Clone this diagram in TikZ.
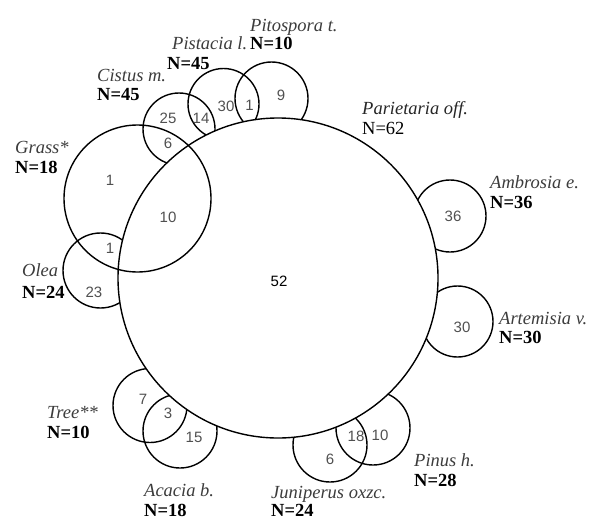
\documentclass[tikz,border=0pt]{standalone}
\usepackage{fontspec}
\setmainfont{Liberation Serif}
\setsansfont{Liberation Sans}
\definecolor{labgray}{HTML}{3C3C3C}
\definecolor{numgray}{HTML}{505050}
\begin{document}
\begin{tikzpicture}[x=1pt,y=-1pt,
  taxon/.style={circle,draw=black,line width=1.4pt,inner sep=0pt,minimum size=#1},
  mainc/.style={circle,draw=black,fill=white,line width=1.4pt,inner sep=0pt,minimum size=#1},
  sp/.style={anchor=base west,inner sep=0pt,text=labgray,font=\fontsize{18.5}{20}\selectfont\itshape},
  cnt/.style={anchor=base west,inner sep=0pt,text=black,font=\fontsize{18.5}{20}\selectfont\bfseries},
  cntr/.style={anchor=base west,inner sep=0pt,text=black,font=\fontsize{18.5}{20}\selectfont},
  num/.style={inner sep=0pt,text=numgray,font=\fontsize{15}{16}\selectfont\sffamily},
]
\useasboundingbox (0,0) rectangle (593,527);

% satellite taxa around the main circle
\node[taxon=73pt] (pito) at (271.5,98.5) {};
\node[taxon=71pt] (pist) at (223.5,104) {};
\node[taxon=72pt] (cist) at (179,129) {};
\node[taxon=75pt] (olea) at (100.5,270.5) {};
\node[taxon=72pt] (ambr) at (450,216) {};
\node[taxon=71pt] (arte) at (457.5,321.5) {};
\node[taxon=74pt] (pinu) at (373,428) {};
\node[taxon=74pt] (juni) at (330,445) {};
\node[taxon=74pt] (acac) at (180,431) {};
\node[taxon=74pt] (tree) at (150,405.5) {};

% Parietaria: the central circle hides the inner parts of the others
\node[mainc=320pt] (pari) at (278,278) {};

% Grass overlaps the central circle
\node[taxon=147pt] (gras) at (137.5,198.5) {};

% counts inside the regions
\node[num] (n9) at (281,95) {9};
\node[num] (n1a) at (249.5,105) {1};
\node[num] (n30a) at (226,106) {30};
\node[num] (n14) at (201,118) {14};
\node[num] (n25) at (168,118) {25};
\node[num] (n6a) at (168,143) {6};
\node[num] (n1b) at (110,180) {1};
\node[num] (n10a) at (168,217) {10};
\node[num] (n1c) at (110,248) {1};
\node[num] (n23) at (94,292) {23};
\node[num,text=black] (n52) at (279,281) {52};
\node[num] (n7) at (143,399) {7};
\node[num] (n3) at (168,413) {3};
\node[num] (n15) at (194,437) {15};
\node[num] (n36) at (453,216) {36};
\node[num] (n30b) at (462,327) {30};
\node[num] (n18) at (356,436) {18};
\node[num] (n10b) at (380,435) {10};
\node[num] (n6b) at (330,459) {6};

% taxon names and sample sizes
\node[sp] (lpito) at (250,31) {Pitospora t.};
\node[cnt] (cpito) at (250,49) {N=10};
\node[sp] (lpist) at (172,49) {Pistacia l.};
\node[cnt] (cpist) at (167,69) {N=45};
\node[sp] (lcist) at (97,81) {Cistus m.};
\node[cnt] (ccist) at (97,100) {N=45};
\node[sp] (lgras) at (15,153) {Grass*};
\node[cnt] (cgras) at (15,173) {N=18};
\node[sp,text=black!85] (lpari) at (362,114) {Parietaria off.};
\node[cntr] (cpari) at (362,134) {N=62};
\node[sp] (lambr) at (490,188) {Ambrosia e.};
\node[cnt] (cambr) at (490,208) {N=36};
\node[sp] (lolea) at (22,276) {Olea};
\node[cnt] (colea) at (22,298) {N=24};
\node[sp] (larte) at (499,324) {Artemisia v.};
\node[cnt] (carte) at (499,343) {N=30};
\node[sp] (ltree) at (47,418) {Tree**};
\node[cnt] (ctree) at (47,438) {N=10};
\node[sp] (lacac) at (144,496) {Acacia b.};
\node[cnt] (cacac) at (144,516) {N=18};
\node[sp] (lpinu) at (414,466) {Pinus h.};
\node[cnt] (cpinu) at (414,486) {N=28};
\node[sp] (ljuni) at (271,498) {Juniperus oxzc.};
\node[cnt] (cjuni) at (271,516) {N=24};
\end{tikzpicture}
\end{document}
